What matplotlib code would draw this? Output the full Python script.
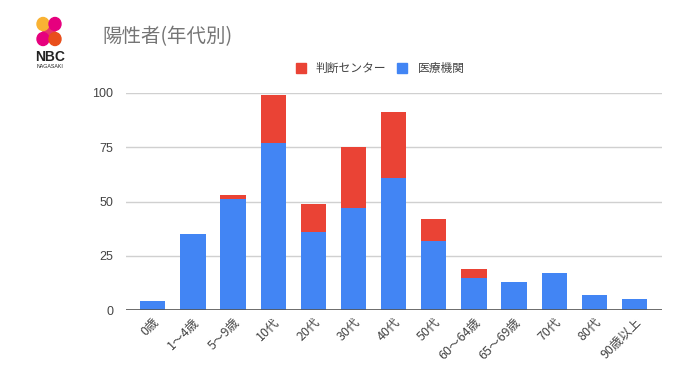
import matplotlib
matplotlib.use('agg')
import matplotlib.pyplot as plt
from matplotlib.patches import Ellipse, Rectangle, Polygon
import numpy as np

plt.rcParams['font.family'] = ['Noto Sans CJK JP', 'DejaVu Sans']

# 年代別 陽性者
categories = ['0歳', '1～4歳', '5～9歳', '10代', '20代', '30代', '40代',
              '50代', '60～64歳', '65～69歳', '70代', '80代', '90歳以上']
iryo = [4, 35, 51, 77, 36, 47, 61, 32, 15, 13, 17, 7, 5]       # 医療機関
handan = [0, 0, 2, 22, 13, 28, 30, 10, 4, 0, 0, 0, 0]         # 判断センター
yticks = [0, 25, 50, 75, 100]

blue = '#4285F4'
red = '#EA4335'

fig = plt.figure(figsize=(6.8, 3.82), dpi=100)
ax = fig.add_axes([0.185, 0.188, 0.789, 0.569])

x = np.arange(len(categories))
ax.bar(x, iryo, width=0.63, color=blue, zorder=3)
ax.bar(x, handan, width=0.63, bottom=iryo, color=red, zorder=3)

ax.set_xlim(-0.67, 12.69)
ax.set_ylim(0, 100)
ax.set_yticks(yticks)
ax.set_yticklabels([str(v) for v in yticks], family=['Liberation Sans'], fontsize=9, color='#444444')
ax.grid(axis='y', color='#d0d0d0', linewidth=1, zorder=0)
for s in ['top', 'right', 'left', 'bottom']:
    ax.spines[s].set_visible(False)
ax.axhline(0, color='#555555', linewidth=1.2, zorder=4)
ax.tick_params(axis='y', length=0, pad=9)
ax.tick_params(axis='x', length=0, pad=4)
ax.set_xticks(x)
ax.set_xticklabels(categories, rotation=45, ha='right', rotation_mode='anchor',
                   fontsize=9, color='#444444')

# title
fig.text(102 / 680, 1 - 37 / 382, '陽性者(年代別)', fontsize=14, color='#757575',
         va='center', ha='left')

# legend
fig.add_artist(Rectangle((296 / 680, 1 - 73 / 382), 10 / 680, 10 / 382, color=red,
                         transform=fig.transFigure))
fig.text(315 / 680, 1 - 68 / 382, '判断センター', fontsize=8.5, color='#444444', va='center')
fig.add_artist(Rectangle((397 / 680, 1 - 73 / 382), 10 / 680, 10 / 382, color=blue,
                         transform=fig.transFigure))
fig.text(418 / 680, 1 - 68 / 382, '医療機関', fontsize=8.5, color='#444444', va='center')

# logo
def px(xp, yp):
    return (xp / 680, 1 - yp / 382)

fig.add_artist(Polygon([px(38, 24), px(47, 20), px(60, 39), px(51, 43)], closed=True,
                       color='#E8336A', transform=fig.transFigure))
logo = [((43, 24), '#F9B233'), ((55, 24), '#E6007E'), ((43, 39), '#E6007E'),
        ((55, 39), '#E94E1B')]
for (cx, cy), c in logo:
    fig.add_artist(Ellipse(px(cx, cy), 12 / 680, 13 / 382, color=c, transform=fig.transFigure))
fig.text(*px(50, 57), 'NBC', fontsize=10, fontweight='bold', ha='center', va='center',
         family=['Liberation Sans'], color='#222222')
fig.text(*px(50, 66), 'NAGASAKI', fontsize=3.8, ha='center', va='center',
         family=['Liberation Sans'], color='#222222')

fig.savefig('out.png', dpi=100)
